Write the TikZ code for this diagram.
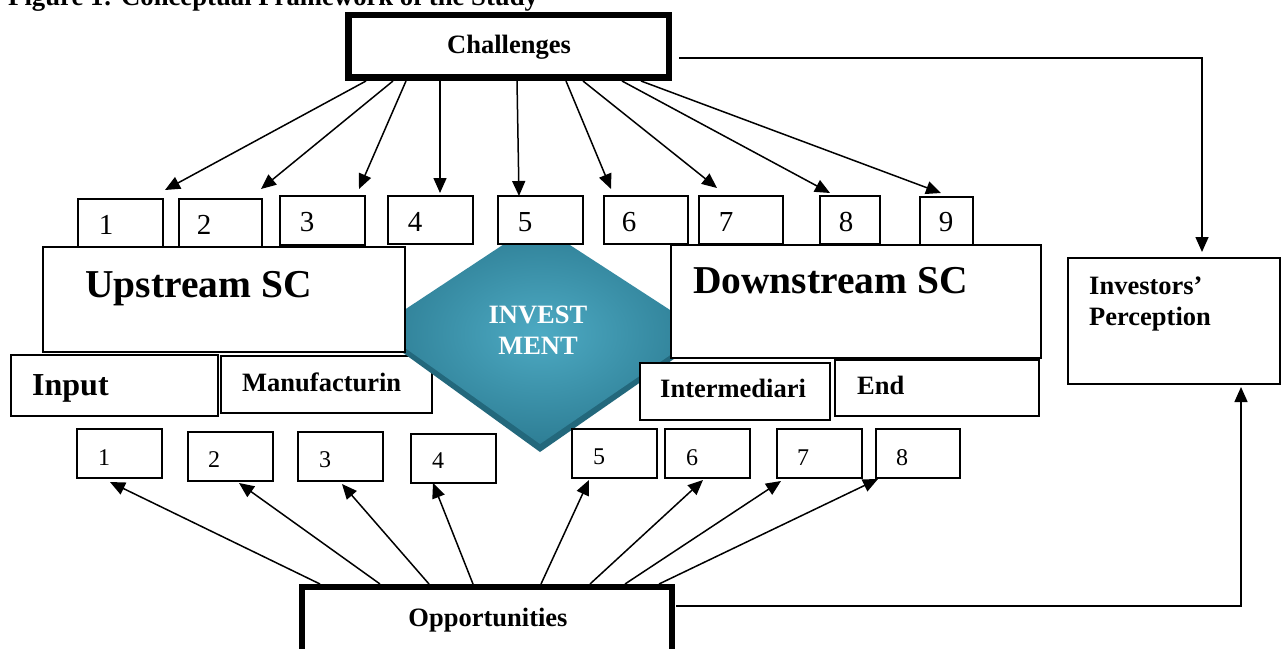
\documentclass[tikz,border=0pt]{standalone}
\usepackage{fontspec}
\setmainfont{Liberation Serif}
\usetikzlibrary{arrows.meta,fit}
\definecolor{gemdark}{HTML}{23687C}
\definecolor{gemmid}{HTML}{2E7E95}
\definecolor{gemlight}{HTML}{4DAAC3}

\begin{document}
\begin{tikzpicture}[x=1pt,y=-1pt,
  box/.style={draw,line width=1.6pt,fill=white,inner sep=0pt,outer sep=0pt},
  heavybox/.style={draw,line width=6.5pt,fill=white,inner sep=0pt,outer sep=0pt},
  conn/.style={line width=1.5pt,-{Triangle[length=15pt,width=13pt]}},
  txt/.style={inner sep=0pt,anchor=base west,font=\fontsize{26.5}{31}\selectfont\bfseries},
  bigtxt/.style={inner sep=0pt,anchor=base west,font=\fontsize{39.5}{44}\selectfont\bfseries},
  numtop/.style={inner sep=0pt,anchor=base,font=\fontsize{29}{32}\selectfont},
  numbot/.style={inner sep=0pt,anchor=base,font=\fontsize{24}{28}\selectfont},
]
\useasboundingbox (0,0) rectangle (1281,648);
\clip (0,0) rectangle (1281,648);
\fill[white] (0,0) rectangle (1281,648);

% caption
\node[txt,font=\fontsize{26.7}{31}\selectfont\bfseries] (title) at (8,5) {Figure 1: Conceptual Framework of the Study};

% challenges
\node[heavybox,fit={(348.5,15) (669,77.5)}] (chal) {};
\node[txt,anchor=base] (chalt) at (509,53) {Challenges};

% challenge items
\node[box,fit={(78,199) (163,247)}] (t1) {};
\node[box,fit={(179,199) (262,247)}] (t2) {};
\node[box,fit={(280,196) (365,245)}] (t3) {};
\node[box,fit={(388,196) (473,244)}] (t4) {};
\node[box,fit={(498,196) (583,244)}] (t5) {};
\node[box,fit={(604,196) (688,244)}] (t6) {};
\node[box,fit={(699,196) (783,244)}] (t7) {};
\node[box,fit={(820,196) (880,244)}] (t8) {};
\node[box,fit={(920,197) (973,246)}] (t9) {};
\node[numtop] (tn1) at (106,234) {1};
\node[numtop] (tn2) at (204,234) {2};
\node[numtop] (tn3) at (307,231) {3};
\node[numtop] (tn4) at (415,231) {4};
\node[numtop] (tn5) at (525,231) {5};
\node[numtop] (tn6) at (629,231) {6};
\node[numtop] (tn7) at (726,231) {7};
\node[numtop] (tn8) at (846,231) {8};
\node[numtop] (tn9) at (946,231) {9};

% upstream stages
\node[box,fit={(11,355) (218,416)}] (input) {};
\node[txt,font=\fontsize{32}{36}\selectfont\bfseries] (inputt) at (32,395) {Input};
\node[box,fit={(221,356) (432,413)}] (manu) {};
\node[txt] (manut) at (242,391) {Manufacturin};

% investment gem
\begin{scope}
  \clip (300,245) rectangle (760,470);
  \fill[gemdark] (536,223) -- (704,338) -- (540,452) -- (377,334) -- cycle;
  \shade[inner color=gemlight,outer color=gemmid]
    (536,223) -- (704,332) -- (540,444) -- (377,328) -- cycle;
\end{scope}
\node[inner sep=0pt,anchor=base,align=center,text=white,
  font=\fontsize{26.5}{31}\selectfont\bfseries] (inv) at (538,354) {INVEST\\MENT};

% supply chain blocks
\node[box,fit={(43,247) (405,352)}] (up) {};
\node[bigtxt] (upt) at (85,297) {Upstream SC};
\node[box,fit={(671,245) (1041,358)}] (down) {};
\node[bigtxt] (downt) at (693,293) {Downstream SC};
\node[box,fit={(640,363) (830,420)}] (inter) {};
\node[txt] (intert) at (660,397) {Intermediari};
\node[box,fit={(835,360) (1039,416)}] (endb) {};
\node[txt] (endt) at (857,394) {End};

% opportunity items
\node[box,fit={(77,429) (162,478)}] (b1) {};
\node[box,fit={(188,432) (273,481)}] (b2) {};
\node[box,fit={(298,432) (383,481)}] (b3) {};
\node[box,fit={(411,434) (496,483)}] (b4) {};
\node[box,fit={(572,429) (657,478)}] (b5) {};
\node[box,fit={(665,429) (750,478)}] (b6) {};
\node[box,fit={(777,429) (862,478)}] (b7) {};
\node[box,fit={(876,429) (960,478)}] (b8) {};
\node[numbot] (bn1) at (104,465) {1};
\node[numbot] (bn2) at (214,467) {2};
\node[numbot] (bn3) at (325,467) {3};
\node[numbot] (bn4) at (438,468) {4};
\node[numbot] (bn5) at (599,464) {5};
\node[numbot] (bn6) at (692,465) {6};
\node[numbot] (bn7) at (803,465) {7};
\node[numbot] (bn8) at (902,465) {8};

% investors
\node[box,fit={(1068,258) (1280,384)}] (invp) {};
\node[txt,align=left] (invpt) at (1089,325) {Investors’\\Perception};

% opportunities
\node[heavybox,fit={(302,587) (672,720)}] (opp) {};
\node[txt,anchor=base] (oppt) at (488,626) {Opportunities};

% connector ends
\coordinate (cs1) at (366,81);  \coordinate (ce1) at (165,190);
\coordinate (cs2) at (393,81);  \coordinate (ce2) at (261,189);
\coordinate (cs3) at (406,81);  \coordinate (ce3) at (359,189);
\coordinate (cs4) at (440,81);  \coordinate (ce4) at (440,193);
\coordinate (cs5) at (517,81);  \coordinate (ce5) at (519,196);
\coordinate (cs6) at (566,81);  \coordinate (ce6) at (611,189);
\coordinate (cs7) at (583,81);  \coordinate (ce7) at (717,188);
\coordinate (cs8) at (622,81);  \coordinate (ce8) at (830,193);
\coordinate (cs9) at (641,81);  \coordinate (ce9) at (941,193);

\coordinate (os1) at (320,584); \coordinate (oe1) at (110,482);
\coordinate (os2) at (380,584); \coordinate (oe2) at (239,483);
\coordinate (os3) at (429,584); \coordinate (oe3) at (342,484);
\coordinate (os4) at (473,584); \coordinate (oe4) at (433,483);
\coordinate (os5) at (541,584); \coordinate (oe5) at (589,480);
\coordinate (os6) at (590,584); \coordinate (oe6) at (703,480);
\coordinate (os7) at (625,584); \coordinate (oe7) at (781,481);
\coordinate (os8) at (659,584); \coordinate (oe8) at (878,479);

\coordinate (chout) at (679,58);  \coordinate (chin) at (1202,252);
\coordinate (opout) at (676,606); \coordinate (opin) at (1241,387);

\foreach \i in {1,...,9} { \draw[conn] (cs\i) -- (ce\i); }
\foreach \i in {1,...,8} { \draw[conn] (os\i) -- (oe\i); }
\draw[conn] (chout) -| (chin);
\draw[conn] (opout) -| (opin);
\end{tikzpicture}
\end{document}
